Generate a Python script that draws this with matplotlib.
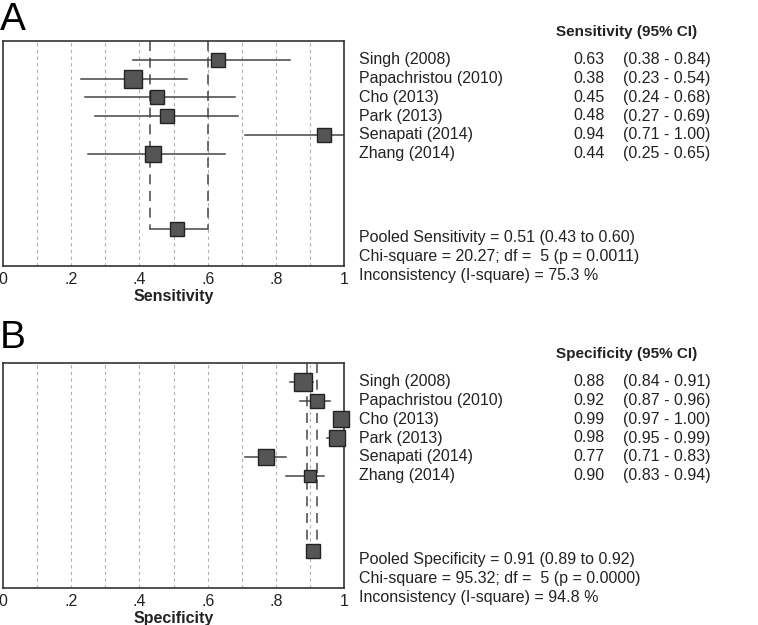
import matplotlib.pyplot as plt
import matplotlib.transforms as mtransforms

plt.rcParams['font.family'] = ['Liberation Sans', 'DejaVu Sans']

studies = ['Singh (2008)', 'Papachristou (2010)', 'Cho (2013)', 'Park (2013)',
           'Senapati (2014)', 'Zhang (2014)']

sens = [0.63, 0.38, 0.45, 0.48, 0.94, 0.44]
sens_lo = [0.38, 0.23, 0.24, 0.27, 0.71, 0.25]
sens_hi = [0.84, 0.54, 0.68, 0.69, 1.00, 0.65]
sens_pool = [0.51, 0.43, 0.60]
sens_stats = ['Chi-square = 20.27; df =  5 (p = 0.0011)',
              'Inconsistency (I-square) = 75.3 %']

spec = [0.88, 0.92, 0.99, 0.98, 0.77, 0.90]
spec_lo = [0.84, 0.87, 0.97, 0.95, 0.71, 0.83]
spec_hi = [0.91, 0.96, 1.00, 0.99, 0.83, 0.94]
spec_pool = [0.91, 0.89, 0.92]
spec_stats = ['Chi-square = 95.32; df =  5 (p = 0.0000)',
              'Inconsistency (I-square) = 94.8 %']

# box sizes (study weights), in points
sens_box = [10, 13, 10, 10.5, 9.5, 11.3]
spec_box = [12.7, 9.9, 12, 11.5, 11.7, 9.2]
pool_box = [10, 10.5]

fig = plt.figure(figsize=(7.58, 6.25), dpi=100)
FS = 11.5


def forest(rect, name, est, lo, hi, pool, stats, boxes, pbox, letter, ly):
    ax = fig.add_axes(rect)
    ax.set_xlim(0, 1)
    ax.set_ylim(12, 0)
    rows = list(range(1, len(est) + 1))
    for x in [0.1, 0.2, 0.3, 0.4, 0.5, 0.6, 0.7, 0.8, 0.9]:
        ax.axvline(x, color='#b0b0b0', lw=0.8, ls=(0, (3, 3)), zorder=0)
    # pooled CI bracket
    ax.plot([pool[1], pool[1]], [0, 10], color='#555555', lw=1.2, ls=(0, (6, 4)), zorder=1)
    ax.plot([pool[2], pool[2]], [0, 10], color='#555555', lw=1.2, ls=(0, (6, 4)), zorder=1)
    ax.plot([pool[1], pool[2]], [10, 10], color='#555555', lw=1.2, zorder=1)
    for y, e, l, h, s in zip(rows, est, lo, hi, boxes):
        ax.plot([l, h], [y, y], color='#444444', lw=1.1, zorder=2)
        ax.plot([e], [y], marker='s', ms=s, mfc='#555555', mec='#222222',
                mew=1.0, zorder=3, clip_on=False)
    ax.plot([pool[0]], [10], marker='s', ms=pbox, mfc='#555555', mec='#222222',
            mew=1.0, zorder=3, clip_on=False)
    ax.set_yticks([])
    ax.set_xticks([0, 0.2, 0.4, 0.6, 0.8, 1.0])
    ax.set_xticklabels(['0', '.2', '.4', '.6', '.8', '1'])
    ax.tick_params(axis='x', length=0, pad=4, labelsize=FS, colors='#222222')
    for sp in ax.spines.values():
        sp.set_color('#333333')
        sp.set_linewidth(1.2)
    ax.set_xlabel(name, fontsize=FS, fontweight='bold', labelpad=2, color='#222222')

    tr = mtransforms.blended_transform_factory(fig.transFigure, ax.transData)
    ax.text(0.7335, -0.5, name + ' (95% CI)', transform=tr, fontsize=11,
            fontweight='bold', va='center', ha='left', color='#222222')
    for y, st, e, l, h in zip(rows, studies, est, lo, hi):
        ax.text(0.4736, y, st, transform=tr, fontsize=FS, va='center', color='#222222')
        ax.text(0.756, y, '%.2f' % e, transform=tr, fontsize=FS, va='center', color='#222222')
        ax.text(0.822, y, '(%.2f - %.2f)' % (l, h), transform=tr, fontsize=FS,
                va='center', color='#222222')
    lines = ['Pooled %s = %.2f (%.2f to %.2f)' % (name, pool[0], pool[1], pool[2])] + stats
    for i, t in enumerate(lines):
        ax.text(0.4736, 10.5 + i, t, transform=tr, fontsize=FS, va='center', color='#222222')
    fig.text(0.0, ly, letter, fontsize=28, va='top', ha='left')
    return ax


forest([0.004, 0.5744, 0.450, 0.36], 'Sensitivity', sens, sens_lo, sens_hi,
       sens_pool, sens_stats, sens_box, pool_box[0], 'A', 0.996)
forest([0.004, 0.0592, 0.450, 0.36], 'Specificity', spec, spec_lo, spec_hi,
       spec_pool, spec_stats, spec_box, pool_box[1], 'B', 0.488)

fig.savefig('out.png', dpi=100)
